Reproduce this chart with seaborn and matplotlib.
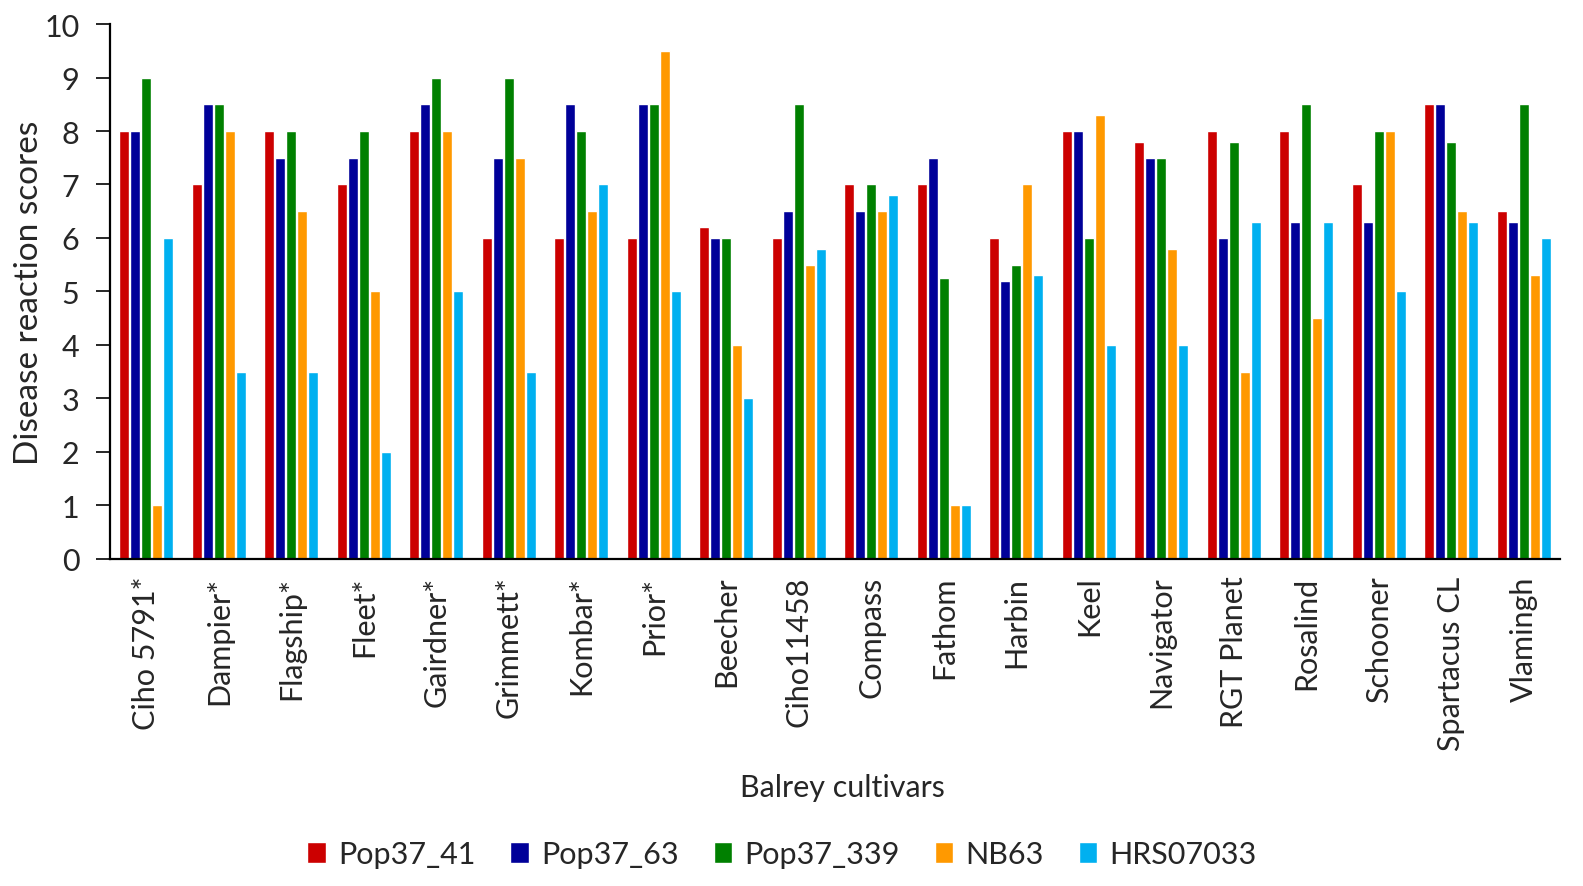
import pandas as pd
import numpy as np
import matplotlib.pyplot as plt
import seaborn as sns

cultivars = ["Ciho 5791*", "Dampier*", "Flagship*", "Fleet*", "Gairdner*", "Grimmett*",
             "Kombar*", "Prior*", "Beecher", "Ciho11458", "Compass", "Fathom", "Harbin",
             "Keel", "Navigator", "RGT Planet", "Rosalind", "Schooner", "Spartacus CL",
             "Vlamingh"]
isolates = ["Pop37_41", "Pop37_63", "Pop37_339", "NB63", "HRS07033"]

pop37_41 = [8, 7, 8, 7, 8, 6, 6, 6, 6.2, 6, 7, 7, 6, 8, 7.8, 8, 8, 7, 8.5, 6.5]
pop37_63 = [8, 8.5, 7.5, 7.5, 8.5, 7.5, 8.5, 8.5, 6, 6.5, 6.5, 7.5, 5.2, 8, 7.5, 6, 6.3, 6.3, 8.5, 6.3]
pop37_339 = [9, 8.5, 8, 8, 9, 9, 8, 8.5, 6, 8.5, 7, 5.25, 5.5, 6, 7.5, 7.8, 8.5, 8, 7.8, 8.5]
nb63 = [1, 8, 6.5, 5, 8, 7.5, 6.5, 9.5, 4, 5.5, 6.5, 1, 7, 8.3, 5.8, 3.5, 4.5, 8, 6.5, 5.3]
hrs07033 = [6, 3.5, 3.5, 2, 5, 3.5, 7, 5, 3, 5.8, 6.8, 1, 5.3, 4, 4, 6.3, 6.3, 5, 6.3, 6]

colors = ["#CC0000", "#000099", "#008000", "#FF9900", "#00B0F0"]

# long form table for seaborn
rows = []
for name, vals in zip(isolates, [pop37_41, pop37_63, pop37_339, nb63, hrs07033]):
    for c, v in zip(cultivars, vals):
        rows.append({"Cultivar": c, "Isolate": name, "Score": v})
df = pd.DataFrame(rows)

sns.set_style("white")
plt.rcParams['font.family'] = ['Lato', 'DejaVu Sans']

fig = plt.figure(figsize=(15.83, 8.87), dpi=100)
ax = fig.add_axes([0.0695, 0.3687, 0.916, 0.6031])

sns.barplot(data=df, x="Cultivar", y="Score", hue="Isolate", hue_order=isolates,
            order=cultivars, palette=colors, width=0.76, gap=0.12, ax=ax,
            saturation=1, errorbar=None)

ax.set_ylim(0, 10)
ax.set_xlim(-0.5, len(cultivars) - 0.5)
ax.set_yticks(range(0, 11))
ax.tick_params(axis='y', labelsize=22, direction='out', length=10, width=1.4,
               left=True, pad=12)
ax.tick_params(axis='x', labelsize=22, length=0, pad=12)
plt.setp(ax.get_xticklabels(), rotation=90)

for s in ["top", "right"]:
    ax.spines[s].set_visible(False)
for s in ["left", "bottom"]:
    ax.spines[s].set_color("black")
    ax.spines[s].set_linewidth(1.6)

ax.set_ylabel("Disease reaction scores", fontsize=24, labelpad=0)
ax.set_xlabel("")
fig.text(0.532, 0.112, "Balrey cultivars", fontsize=22, ha="center", va="center")

ax.legend(loc="center", bbox_to_anchor=(0.494, 0.036), bbox_transform=fig.transFigure,
          ncol=5, frameon=False, fontsize=22, handlelength=0.6, handleheight=0.7,
          handletextpad=0.4, columnspacing=1.15, title=None)

fig.savefig("out.png", dpi=100)
